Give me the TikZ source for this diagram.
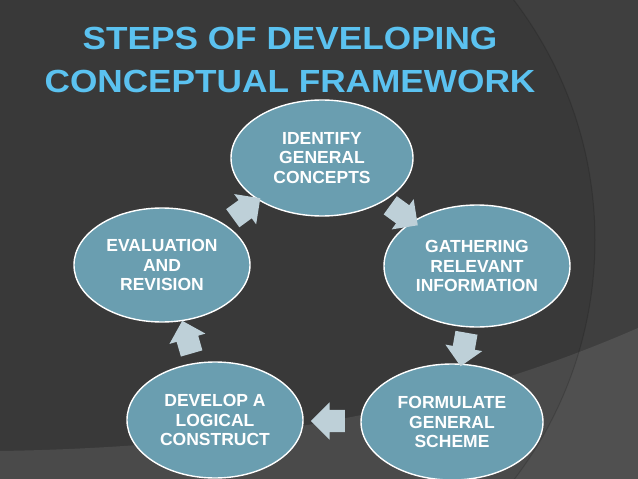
\documentclass[tikz,border=0pt]{standalone}
\usepackage{fontspec}
\setmainfont{Liberation Sans}
\newfontfamily\titlefont[FakeStretch=1.1]{Liberation Sans}
\usetikzlibrary{shapes.geometric,shapes.arrows,calc}
\definecolor{bgdark}{HTML}{393939}
\definecolor{bgband}{HTML}{4A4A4A}
\definecolor{titleblue}{HTML}{5BC2F0}
\definecolor{stepfill}{HTML}{6A9EB0}
\definecolor{arrowfill}{HTML}{BED0D8}
\tikzset{
  stepnode/.style={ellipse, draw=white, line width=1.4pt, fill=stepfill, text=white,
    minimum width=182pt, minimum height=116pt, inner sep=0pt, align=center,
    font=\bfseries\fontsize{17.5}{19.5}\selectfont},
  cyclearrow/.style={single arrow, fill=arrowfill, draw=none, inner sep=0pt,
    text height=11pt, text depth=11pt, minimum height=34pt, single arrow head extend=7.5pt}
}
\begin{document}
\begin{tikzpicture}[x=1pt,y=-1pt]
            \useasboundingbox (0,0) rectangle (638,479);
            \clip (0,0) rectangle (638,479);
            \fill[bgdark] (0,0) rectangle (638,479);
            \fill[bgband] (0,451) .. controls (250,447) and (450,410) .. (638,328) -- (638,479) -- (0,479) -- cycle;
            \fill[white,opacity=0.035,even odd rule] (0,0) rectangle (638,479) (200,240) circle (395);
            \draw[black,opacity=0.15,line width=1pt] (200,240) circle (395);
            \node[font=\titlefont\bfseries\fontsize{32}{43}\selectfont, text=titleblue, align=center] (title) at (290,60) {STEPS OF DEVELOPING\\CONCEPTUAL FRAMEWORK};
            \node[stepnode] (identify) at (322,158) {IDENTIFY\\GENERAL\\CONCEPTS};
            \node[stepnode, minimum width=186pt, minimum height=122pt] (gathering) at (477,266) {GATHERING\\RELEVANT\\INFORMATION};
            \node[stepnode] (formulate) at (452,422) {FORMULATE\\GENERAL\\SCHEME};
            \node[stepnode, minimum width=176pt] (develop) at (215,420) {DEVELOP A\\LOGICAL\\CONSTRUCT};
            \node[stepnode, minimum width=176pt, minimum height=114pt] (evaluation) at (162,265) {EVALUATION\\AND\\REVISION};
            \foreach \a/\b/\ang in {identify/gathering/-36, gathering/formulate/-100, formulate/develop/180, develop/evaluation/106, evaluation/identify/36} {
                \node[cyclearrow, rotate=\ang] (arrow-\a) at ($(\a)!0.5!(\b)$) {};
            }
        \end{tikzpicture}
\end{document}
